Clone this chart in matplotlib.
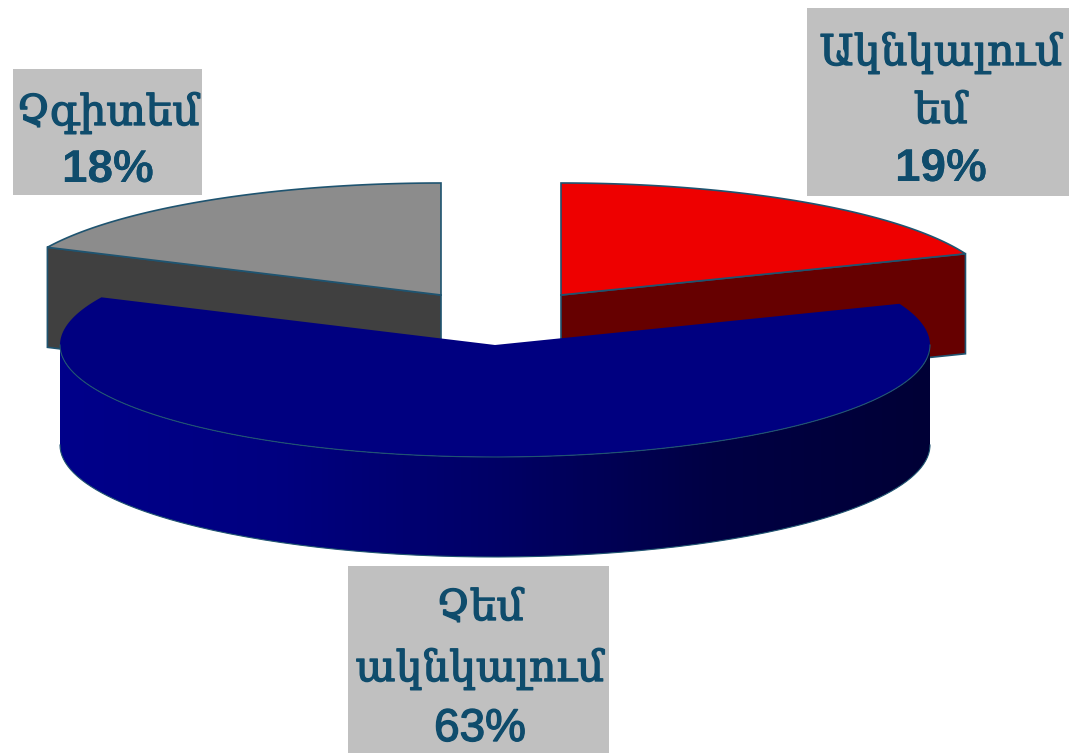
import numpy as np
import matplotlib
matplotlib.use("Agg")
import matplotlib.pyplot as plt
import matplotlib.patheffects as pe
from matplotlib.patches import Polygon, Rectangle
from matplotlib.colors import LinearSegmentedColormap

# data (clockwise from 12 o'clock)
labels  = [["Ակնկալում", "եմ"], ["Չեմ", "ակնկալում"], ["Չգիտեմ"]]
percent = [19, 63, 18]

# look
topCol  = ["#ee0000", "#000080", "#8c8c8c"]
sideCol = ["#660000", None, "#404040"]
apex    = [(561, 295), (495, 345), (441, 295)]
edge    = "#1f5470"
textCol = "#0f4c6c"
boxCol  = "#c0c0c0"
boxes   = [(807, 8, 262, 188), (348, 566, 261, 187), (13, 69, 189, 126)]
lineY   = [[53, 111, 169], [608, 669, 729], [113, 170]]
lineX   = [941, 480, 108]
pctWeight = ["bold", "normal", "bold"]
rx      = 435
ry      = 112
depth   = 100


def arc(center, a0, a1, n=200):
    t = np.radians(np.linspace(a0, a1, n))
    return center[0] + rx * np.cos(t), center[1] - ry * np.sin(t)


def main():
    fig = plt.figure(figsize=(10.74, 7.53), dpi=100)
    ax = fig.add_axes([0, 0, 1, 1])

    # slice angles from the values
    angles = 90 - np.cumsum([0] + percent) * 3.6
    spans = [(angles[i], angles[i + 1]) for i in range(3)]

    # back slices first, blue goes over them
    for i in [0, 2]:
        c = apex[i]
        x, y = arc(c, spans[i][0], spans[i][1])
        out = (x[-1], y[-1]) if i == 0 else (x[0], y[0])
        side = [c, out, (out[0], out[1] + depth), (c[0], c[1] + depth)]
        ax.add_patch(Polygon(side, fc=sideCol[i], ec=edge, lw=1.2, zorder=2))
        pts = np.column_stack([np.r_[c[0], x], np.r_[c[1], y]])
        ax.add_patch(Polygon(pts, fc=topCol[i], ec=edge, lw=1.2, zorder=3))

    # blue slice, side with gradient
    c = apex[1]
    x, y = arc(c, 180, 360)
    sx = np.r_[x, x[::-1]]
    sy = np.r_[y, y[::-1] + depth]
    sidePatch = Polygon(np.column_stack([sx, sy]), fc="none", ec="none", zorder=4)
    ax.add_patch(sidePatch)
    cmap = LinearSegmentedColormap.from_list(
        "side", ["#00008a", "#000080", "#000066", "#000044", "#000036"])
    grad = np.linspace(0, 1, 256).reshape(1, -1)
    img = ax.imshow(grad, cmap=cmap, aspect="auto", zorder=4,
                    extent=[x.min(), x.max(), y.max() + depth + 5, y.min()])
    img.set_clip_path(sidePatch)
    ax.plot(x, y + depth, color=edge, lw=0.8, zorder=5)
    ax.plot(x, y, color=edge, lw=0.8, zorder=7)

    tx, ty = arc(c, spans[1][0], spans[1][1])
    pts = np.column_stack([np.r_[c[0], tx], np.r_[c[1], ty]])
    ax.add_patch(Polygon(pts, fc=topCol[1], ec="none", zorder=6))

    # labels
    for i in range(3):
        ax.add_patch(Rectangle(boxes[i][:2], boxes[i][2], boxes[i][3], fc=boxCol, ec="none", zorder=8))
        for j, line in enumerate(labels[i]):
            t = ax.text(lineX[i], lineY[i][j], line, color=textCol, fontsize=30.5, family="DejaVu Serif",
                        ha="center", va="center", zorder=9)
            t.set_path_effects([pe.withStroke(linewidth=1.0, foreground=textCol)])
        ax.text(lineX[i], lineY[i][-1], "%d%%" % percent[i], color=textCol, fontsize=33,
                family="Liberation Sans", fontweight=pctWeight[i], ha="center", va="center", zorder=9,
                path_effects=[pe.withStroke(linewidth=1.0 if pctWeight[i] == "normal" else 0, foreground=textCol)])

    ax.set_xlim(0, 1074)
    ax.set_ylim(753, 0)
    ax.axis("off")
    fig.savefig("out.png", dpi=100)


if __name__ == "__main__":
    main()
